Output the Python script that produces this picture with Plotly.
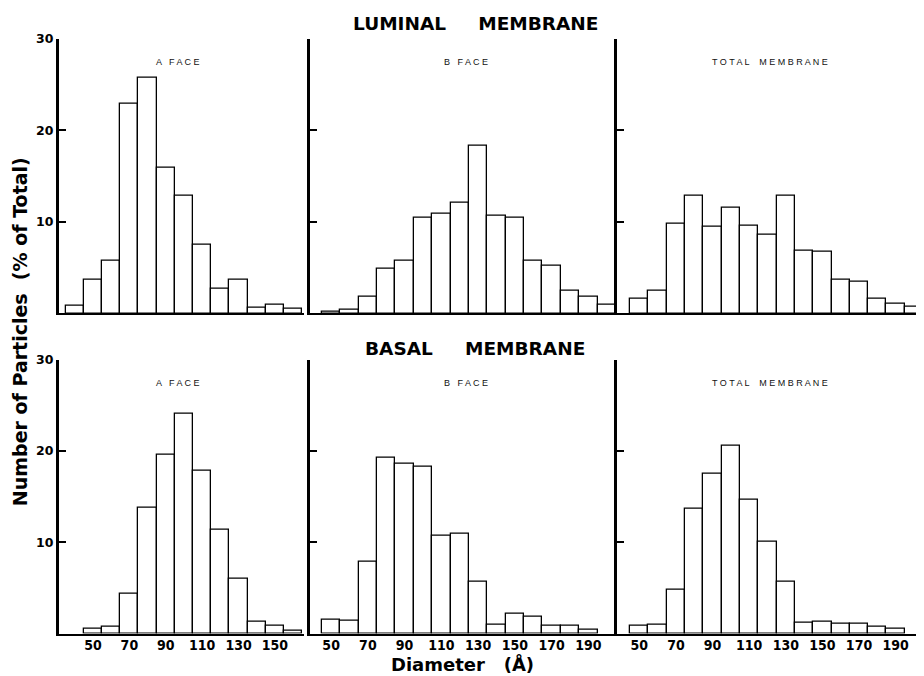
import plotly.graph_objects as go

# ---------------- data (percent of total particles per 10 Å diameter bin) ----------------
lum_a_diam = [40, 50, 60, 70, 80, 90, 100, 110, 120, 130, 140, 150, 160]
lum_a_pct = [0.8, 3.7, 5.8, 22.9, 25.7, 15.9, 12.9, 7.5, 2.7, 3.7, 0.6, 0.9, 0.5]

lum_b_diam = [50, 60, 70, 80, 90, 100, 110, 120, 130, 140, 150, 160, 170, 180, 190, 200]
lum_b_pct = [0.2, 0.4, 1.8, 4.9, 5.7, 10.4, 10.9, 12.1, 18.3, 10.7, 10.4, 5.7, 5.25, 2.5, 1.8, 0.95]

lum_t_diam = [50, 60, 70, 80, 90, 100, 110, 120, 130, 140, 150, 160, 170, 180, 190, 200]
lum_t_pct = [1.6, 2.5, 9.8, 12.8, 9.5, 11.5, 9.6, 8.6, 12.8, 6.9, 6.75, 3.7, 3.5, 1.6, 1.1, 0.75]

bas_a_diam = [50, 60, 70, 80, 90, 100, 110, 120, 130, 140, 150, 160]
bas_a_pct = [0.55, 0.7, 4.4, 13.8, 19.6, 24.1, 17.8, 11.4, 6.0, 1.25, 0.85, 0.3]

bas_b_diam = [50, 60, 70, 80, 90, 100, 110, 120, 130, 140, 150, 160, 170, 180, 190]
bas_b_pct = [1.5, 1.4, 7.9, 19.3, 18.6, 18.3, 10.7, 10.9, 5.7, 1.0, 2.2, 1.8, 0.8, 0.8, 0.35]

bas_t_diam = [50, 60, 70, 80, 90, 100, 110, 120, 130, 140, 150, 160, 170, 180, 190]
bas_t_pct = [0.85, 1.0, 4.8, 13.7, 17.5, 20.6, 14.6, 10.1, 5.7, 1.15, 1.3, 1.1, 1.1, 0.7, 0.55]

y_ticks = [10, 20, 30]
x_ticks_a = [50, 70, 90, 110, 130, 150]
x_ticks_bt = [50, 70, 90, 110, 130, 150, 170, 190]

panel_titles = ["A   F A C E", "B   F A C E", "T O T A L    M E M B R A N E"]
row_titles = ["LUMINAL     MEMBRANE", "BASAL     MEMBRANE"]
y_title = "Number of Particles  (% of Total)"
x_title = "Diameter   (Å)"

# ---------------- layout geometry ----------------
# the page body has an 8px margin, so the figure is 8px smaller than the window
OFF = 8
W, H = 924 - OFF, 676 - OFF


def px_x(p):
    return (p - OFF) / W


def px_y(p):
    return 1 - (p - OFF) / H


col_dom = [(59, 304), (310, 615), (617, 924)]
col_rng = [(31.3, 166), (38.5, 204.5), (37.8, 205.5)]
row_dom = [(31, 309), (356, 633)]

panels = [
    (0, 0, lum_a_diam, lum_a_pct, x_ticks_a),
    (0, 1, lum_b_diam, lum_b_pct, x_ticks_bt),
    (0, 2, lum_t_diam, lum_t_pct, x_ticks_bt),
    (1, 0, bas_a_diam, bas_a_pct, x_ticks_a),
    (1, 1, bas_b_diam, bas_b_pct, x_ticks_bt),
    (1, 2, bas_t_diam, bas_t_pct, x_ticks_bt),
]

xtick_font = dict(family="Liberation Sans Narrow, DejaVu Sans Condensed, Liberation Sans, Arial",
                  size=14, color="black", weight="bold")
ytick_font = dict(family="DejaVu Sans, Verdana, sans-serif", size=12.5, color="black", weight="bold")
title_family = "DejaVu Sans, Verdana, sans-serif"

fig = go.Figure()
layout = dict(
    width=W, height=H,
    margin=dict(l=0, r=0, t=0, b=0),
    paper_bgcolor="white", plot_bgcolor="white",
    showlegend=False, bargap=0,
)

for i, (r, c, xs, ys, xt) in enumerate(panels):
    n = i + 1
    xa = "x" if n == 1 else f"x{n}"
    ya = "y" if n == 1 else f"y{n}"
    fig.add_trace(go.Bar(
        x=xs, y=ys, width=10, xaxis=xa, yaxis=ya,
        marker=dict(color="white", line=dict(color="black", width=1.3)),
    ))
    xd = col_dom[c]
    yd = row_dom[r]
    xkey = "xaxis" if n == 1 else f"xaxis{n}"
    ykey = "yaxis" if n == 1 else f"yaxis{n}"
    layout[xkey] = dict(
        domain=[px_x(xd[0]), min(1.0, px_x(xd[1]))],
        range=list(col_rng[c]),
        anchor=ya,
        showline=True, linecolor="black", linewidth=2.2,
        showgrid=False, zeroline=False,
        ticks="", tickvals=xt,
        showticklabels=(r == 1),
        tickfont=xtick_font,
        ticklabelstandoff=-2,
    )
    layout[ykey] = dict(
        domain=[px_y(yd[1]), px_y(yd[0])],
        range=[0, 30],
        anchor=xa,
        showline=True, linecolor="black", linewidth=3,
        showgrid=False, zeroline=False,
        ticks="inside", ticklen=7, tickwidth=2.2, tickcolor="black",
        tickvals=y_ticks,
        showticklabels=(c == 0),
        tickfont=ytick_font,
    )

annotations = []
sub_centers_x = [178, 466, 770]
sub_y = [55, 379]
for r in range(2):
    for c in range(3):
        annotations.append(dict(
            text=panel_titles[c], x=px_x(sub_centers_x[c]), y=px_y(sub_y[r]),
            xref="paper", yref="paper", showarrow=False,
            xanchor="center", yanchor="middle",
            font=dict(family="Liberation Sans, Arial", size=9, color="#111"),
        ))

row_title_y = [16, 345]
for r in range(2):
    annotations.append(dict(
        text=row_titles[r], x=px_x(475), y=px_y(row_title_y[r]),
        xref="paper", yref="paper", showarrow=False,
        xanchor="center", yanchor="middle",
        font=dict(family=title_family, size=18.5, color="black", weight="bold"),
    ))

annotations.append(dict(
    text=y_title, x=px_x(20), y=px_y(328), textangle=-90,
    xref="paper", yref="paper", showarrow=False,
    xanchor="center", yanchor="middle",
    font=dict(family=title_family, size=19, color="black", weight="bold"),
))
annotations.append(dict(
    text=x_title, x=px_x(462), y=px_y(664),
    xref="paper", yref="paper", showarrow=False,
    xanchor="center", yanchor="middle",
    font=dict(family=title_family, size=18, color="black", weight="bold"),
))

layout["annotations"] = annotations
fig.update_layout(**layout)

fig.write_html("out.html")
